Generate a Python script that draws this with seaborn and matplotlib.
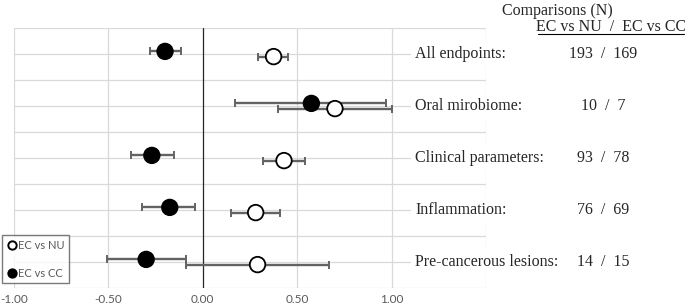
import numpy as np
import pandas as pd
import matplotlib
matplotlib.use("Agg")
import matplotlib.pyplot as plt
import seaborn as sns
from matplotlib.lines import Line2D

categories = ["All endpoints:", "Oral mirobiome:", "Clinical parameters:", "Inflammation:", "Pre-cancerous lesions:"]
counts = ["193  /  169", "10  /  7", "93  /  78", "76  /  69", "14  /  15"]
cat_pos = [9, 7, 5, 3, 1]

nu_est = [0.375, 0.70, 0.43, 0.28, 0.29]
nu_lo = [0.29, 0.40, 0.32, 0.15, -0.09]
nu_hi = [0.45, 1.00, 0.54, 0.41, 0.67]

cc_est = [-0.20, 0.575, -0.27, -0.175, -0.30]
cc_lo = [-0.28, 0.17, -0.38, -0.32, -0.505]
cc_hi = [-0.115, 0.97, -0.155, -0.04, -0.09]

xticks = [-1.0, -0.5, 0.0, 0.5, 1.0]
xtick_labels = ["-1.00", "-0.50", "0.00", "0.50", "1.00"]

sns.set_theme(style="white")
plt.rcParams["font.family"] = ["Lato", "DejaVu Sans"]

fig = plt.figure(figsize=(6.85, 3.08), dpi=100)
ax = fig.add_axes([14 / 685, 1 - 288 / 308, (486 - 14) / 685, (288 - 28) / 308])

rows = []
for i, c in enumerate(categories):
    rows.append(dict(cat=c, y=cat_pos[i] - 0.1, est=nu_est[i], lo=nu_lo[i], hi=nu_hi[i], grp="EC vs NU"))
    rows.append(dict(cat=c, y=cat_pos[i] + 0.1, est=cc_est[i], lo=cc_lo[i], hi=cc_hi[i], grp="EC vs CC"))
df = pd.DataFrame(rows)

ax.set_xlim(-1.0, 1.5)
ax.set_ylim(0, 10)

grid_c = "#d9d9d9"
for gx in [-1.0, -0.5, 0.5, 1.0, 1.5]:
    ax.axvline(gx, color=grid_c, lw=0.9, zorder=0)
for gy in range(0, 11):
    ax.axhline(gy, color=grid_c, lw=0.9, zorder=0)
ax.axvline(0, color="#262626", lw=0.9, zorder=1)

for grp in ["EC vs NU", "EC vs CC"]:
    d = df[df.grp == grp]
    ax.errorbar(d.est, d.y, xerr=[d.est - d.lo, d.hi - d.est], fmt="none",
                ecolor="#636363", elinewidth=1.7, capsize=3, capthick=1.4, zorder=2)

sns.scatterplot(data=df, x="est", y="y", hue="grp", palette={"EC vs NU": "white", "EC vs CC": "black"},
                s=125, edgecolor="black", linewidth=1.3, ax=ax, zorder=3, legend=False)

for s in ax.spines.values():
    s.set_visible(False)
ax.set_xlabel("")
ax.set_ylabel("")
ax.set_yticks([])
ax.set_xticks(xticks)
ax.set_xticklabels(xtick_labels)
ax.tick_params(axis="x", length=0, pad=4, labelsize=8.5, labelcolor="#595959")

handles = [
    Line2D([], [], marker="o", ls="none", mfc="white", mec="black", mew=1.4, ms=6, label="EC vs NU"),
    Line2D([], [], marker="o", ls="none", mfc="black", mec="black", mew=1.4, ms=6, label="EC vs CC"),
]
leg = fig.legend(handles=handles, loc="lower left", bbox_to_anchor=(2 / 685, 1 - 283 / 308),
                 frameon=True, fancybox=False, fontsize=8, handletextpad=0.0,
                 borderpad=0.4, labelspacing=1.5, handlelength=1.0, borderaxespad=0)
leg.get_frame().set_edgecolor("#595959")
leg.get_frame().set_linewidth(1.0)
for t in leg.get_texts():
    t.set_color("#595959")

serif = ["Liberation Serif", "DejaVu Serif"]
for i, c in enumerate(categories):
    ypx = 1 - (288 - cat_pos[i] * 26) / 308
    fig.text(415 / 685, ypx, c, family=serif, fontsize=11.5, ha="left", va="center",
             bbox=dict(facecolor="white", edgecolor="none", pad=2.5))
    fig.text(603 / 685, ypx, counts[i], family=serif, fontsize=11.5, ha="center", va="center")

fig.text(557 / 685, 1 - 11 / 308, "Comparisons (N)", family=serif, fontsize=11.5, ha="center", va="center")
fig.text(611 / 685, 1 - 27 / 308, "EC vs NU  /  EC vs CC", family=serif, fontsize=11.5, ha="center", va="center")
fig.add_artist(Line2D([538 / 685, 684 / 685], [1 - 34 / 308, 1 - 34 / 308], color="black", lw=0.8))

fig.savefig("out.png", dpi=100)
